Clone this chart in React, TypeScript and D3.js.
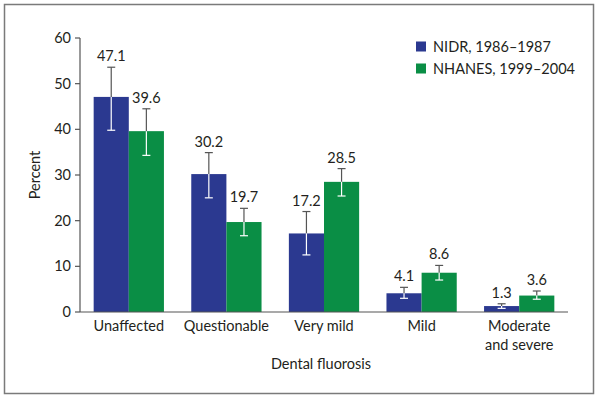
import React from "react";
import * as d3 from "d3";

const categories = ["Unaffected", "Questionable", "Very mild", "Mild", "Moderate and severe"];
const categoryLines = [["Unaffected"], ["Questionable"], ["Very mild"], ["Mild"], ["Moderate", "and severe"]];
const seriesNames = ["NIDR, 1986\u20131987", "NHANES, 1999\u20132004"];
const nidrValues = [47.1, 30.2, 17.2, 4.1, 1.3];
const nidrLow = [39.8, 25.0, 12.5, 3.0, 0.8];
const nidrHigh = [53.6, 34.9, 22.0, 5.4, 1.8];
const nhanesValues = [39.6, 19.7, 28.5, 8.6, 3.6];
const nhanesLow = [34.3, 16.7, 25.4, 7.0, 2.8];
const nhanesHigh = [44.5, 22.7, 31.4, 10.2, 4.6];
const yTicks = [0, 10, 20, 30, 40, 50, 60];

const colors = ["#2b3990", "#0a8e45"];
const textColor = "#231f20";
const font = "Lato, 'Noto Sans', sans-serif";
const fs = 14.5;

export default function App() {
  const W = 601, H = 400;
  const left = 80, right = 568, top = 38, bottom = 312;
  const x0 = d3.scaleBand<string>().domain(categories).range([left, right]).paddingInner(0.28).paddingOuter(0.14);
  const x1 = d3.scaleBand<string>().domain(seriesNames).range([0, x0.bandwidth()]);
  const y = d3.scaleLinear().domain([0, 60]).range([bottom, top]);

  const series = [
    { name: seriesNames[0], vals: nidrValues, lo: nidrLow, hi: nidrHigh, color: colors[0] },
    { name: seriesNames[1], vals: nhanesValues, lo: nhanesLow, hi: nhanesHigh, color: colors[1] },
  ];

  return (
    <svg width={W} height={H} style={{ position: "absolute", left: 0, top: 0, background: "#fff" }} fontFamily={font}>
      <rect x={4.5} y={4.5} width={589} height={389} fill="#fff" stroke="#7a7a7a" strokeWidth={1.5} />
      {/* bars */}
      {series.map((s, si) =>
        categories.map((c, i) => {
          const bx = (x0(c) ?? 0) + (x1(s.name) ?? 0);
          const bw = x1.bandwidth();
          const cx = bx + bw / 2;
          const yv = y(s.vals[i]);
          const yh = y(s.hi[i]);
          const yl = y(s.lo[i]);
          return (
            <g key={`${si}-${i}`}>
              <rect x={bx} y={yv} width={bw} height={bottom - yv} fill={s.color} />
              <line x1={cx} x2={cx} y1={yh} y2={yv} stroke="#555" strokeWidth={1.2} />
              <line x1={cx} x2={cx} y1={yv} y2={yl} stroke="#fff" strokeWidth={1.2} />
              <line x1={cx - 4} x2={cx + 4} y1={yh} y2={yh} stroke={yh < yv ? "#555" : "#fff"} strokeWidth={1.2} />
              <line x1={cx - 4} x2={cx + 4} y1={yl} y2={yl} stroke={yl < yv ? "#555" : "#fff"} strokeWidth={1.2} />
              <text x={cx} y={yh - 6} textAnchor="middle" fontSize={fs} fill={textColor}>
                {s.vals[i].toFixed(1)}
              </text>
            </g>
          );
        })
      )}
      {/* y axis */}
      <line x1={left} x2={left} y1={top} y2={bottom} stroke="#555" strokeWidth={1.2} />
      {yTicks.map((t) => (
        <g key={t}>
          <line x1={left - 5} x2={left} y1={y(t)} y2={y(t)} stroke="#555" strokeWidth={1.2} />
          <text x={left - 9} y={y(t) + 5} textAnchor="end" fontSize={fs} fill={textColor}>
            {t}
          </text>
        </g>
      ))}
      {/* x axis */}
      <line x1={left} x2={right} y1={bottom} y2={bottom} stroke="#555" strokeWidth={1.2} />
      {categories.map((c, i) => (
        <text key={c} x={(x0(c) ?? 0) + x0.bandwidth() / 2} y={331} textAnchor="middle" fontSize={fs} fill={textColor}>
          {categoryLines[i].map((ln, j) => (
            <tspan key={j} x={(x0(c) ?? 0) + x0.bandwidth() / 2} dy={j === 0 ? 0 : 18.5}>
              {ln}
            </tspan>
          ))}
        </text>
      ))}
      <text x={321} y={369} textAnchor="middle" fontSize={fs} fill={textColor}>
        Dental fluorosis
      </text>
      <text transform={`translate(40, ${(top + bottom) / 2}) rotate(-90)`} textAnchor="middle" fontSize={fs} fill={textColor}>
        Percent
      </text>
      {/* legend */}
      {series.map((s, i) => (
        <g key={s.name} transform={`translate(416, ${41.5 + i * 22})`}>
          <rect x={0} y={0} width={10} height={10} fill={s.color} />
          <text x={17} y={10} fontSize={fs} fill={textColor}>
            {s.name}
          </text>
        </g>
      ))}
    </svg>
  );
}
